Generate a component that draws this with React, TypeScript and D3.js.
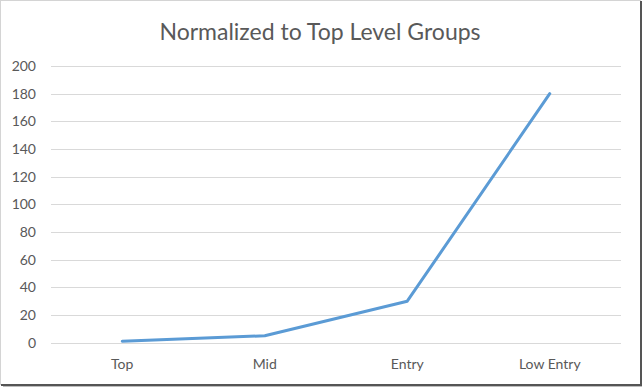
import { useEffect, useRef } from "react";
import * as d3 from "d3";

const categories = ["Top", "Mid", "Entry", "Low Entry"];
const values = [1, 5, 30, 180];
const yTicks = [0, 20, 40, 60, 80, 100, 120, 140, 160, 180, 200];
const title = "Normalized to Top Level Groups";

export default function App() {
  const svgRef = useRef<SVGSVGElement | null>(null);

  const width = 644;
  const height = 389;

  useEffect(() => {
    const svg = d3.select(svgRef.current);
    svg.selectAll("*").remove();

    const font = "Lato, 'Open Sans', sans-serif";

    // frame with a little drop shadow on the right / bottom
    svg.append("rect")
      .attr("x", 3).attr("y", 3)
      .attr("width", 639).attr("height", 384)
      .attr("fill", "#bdbdbd");
    svg.append("rect")
      .attr("x", 0.5).attr("y", 0.5)
      .attr("width", 640).attr("height", 384)
      .attr("fill", "#ffffff")
      .attr("stroke", "#d4d4d4");
    svg.append("line")
      .attr("x1", 641).attr("x2", 641).attr("y1", 1).attr("y2", 385.5)
      .attr("stroke", "#555").attr("stroke-width", 2);
    svg.append("line")
      .attr("x1", 1).attr("x2", 642).attr("y1", 385).attr("y2", 385)
      .attr("stroke", "#555").attr("stroke-width", 2);

    const x = d3.scaleBand().domain(categories).range([51, 621]);
    const y = d3.scaleLinear().domain([0, 200]).range([342.7, 66]);

    svg.append("text")
      .attr("x", 320).attr("y", 40)
      .attr("text-anchor", "middle")
      .attr("font-family", font)
      .attr("font-size", 23)
      .attr("fill", "#595959")
      .text(title);

    const grid = svg.append("g");
    grid.selectAll("line")
      .data(yTicks)
      .join("line")
      .attr("x1", 51).attr("x2", 621)
      .attr("y1", (d) => Math.round(y(d)) + 0.5)
      .attr("y2", (d) => Math.round(y(d)) + 0.5)
      .attr("stroke", "#d9d9d9")
      .attr("stroke-width", 1);

    svg.append("g")
      .selectAll("text")
      .data(yTicks)
      .join("text")
      .attr("x", 36)
      .attr("y", (d) => y(d) + 5)
      .attr("text-anchor", "end")
      .attr("font-family", font)
      .attr("font-size", 14)
      .attr("fill", "#595959")
      .text((d) => d);

    svg.append("g")
      .selectAll("text")
      .data(categories)
      .join("text")
      .attr("x", (d) => (x(d) as number) + x.bandwidth() / 2)
      .attr("y", 369)
      .attr("text-anchor", "middle")
      .attr("font-family", font)
      .attr("font-size", 14)
      .attr("fill", "#595959")
      .text((d) => d);

    const line = d3.line<number>()
      .x((d, i) => (x(categories[i]) as number) + x.bandwidth() / 2)
      .y((d) => y(d));

    svg.append("path")
      .datum(values)
      .attr("d", line)
      .attr("fill", "none")
      .attr("stroke", "#5b9bd5")
      .attr("stroke-width", 3)
      .attr("stroke-linejoin", "round")
      .attr("stroke-linecap", "round");
  }, []);

  return (
    <div style={{ position: "fixed", left: 0, top: 0 }}>
      <svg ref={svgRef} width={width} height={height} viewBox={`0 0 ${width} ${height}`} style={{ display: "block" }} />
    </div>
  );
}
